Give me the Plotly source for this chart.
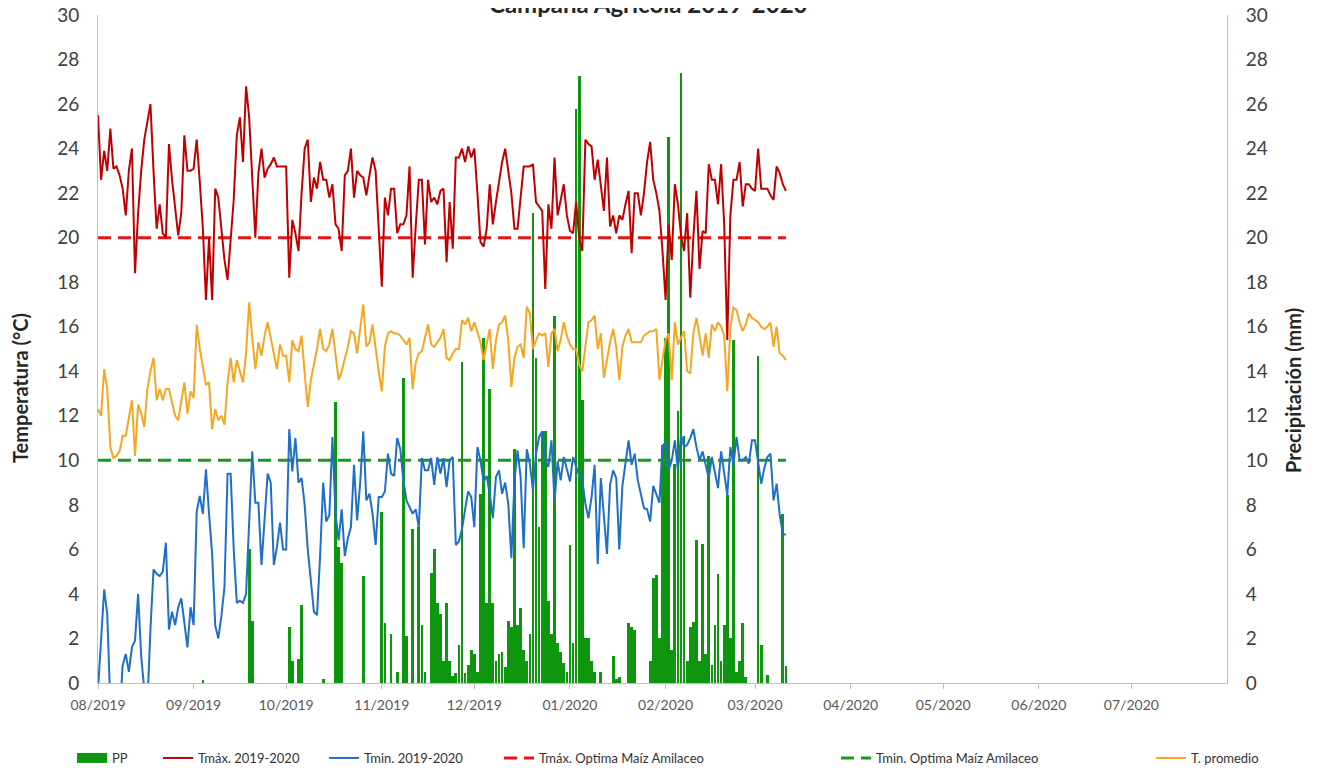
import pandas as pd
import plotly.graph_objects as go

# ---------------- data ----------------
start_date = "2019-08-01"
n_days = 224
dates = pd.date_range(start_date, periods=n_days, freq="D")

tmax = [
    25.5, 22.6, 23.9, 23.0, 24.9, 23.1, 23.2, 22.8, 22.2, 21.0,
    23.0, 24.0, 18.4, 21.1, 23.0, 24.4, 25.2, 26.0, 23.0, 20.4,
    21.5, 20.2, 20.0, 24.2, 22.6, 21.2, 20.1, 21.1, 24.6, 23.0,
    23.0, 23.1, 24.4, 22.5, 20.4, 17.2, 20.0, 17.2, 22.2, 21.8,
    20.5, 19.0, 18.1, 19.8, 21.7, 24.6, 25.4, 23.4, 26.8, 25.4,
    22.8, 20.0, 22.9, 24.0, 22.7, 23.1, 23.3, 23.6, 23.2, 23.2,
    23.2, 23.2, 18.2, 20.8, 20.2, 19.4, 22.0, 24.0, 24.4, 21.6,
    22.7, 22.2, 23.4, 22.6, 22.6, 21.8, 22.4, 20.6, 20.4, 19.4,
    22.8, 23.0, 24.0, 21.8, 23.0, 22.8, 22.7, 21.9, 22.8, 23.6,
    23.0, 20.5, 17.8, 21.8, 21.0, 22.2, 22.2, 20.2, 20.6, 20.6,
    21.0, 23.2, 18.2, 20.5, 22.6, 22.6, 19.7, 22.6, 21.6, 21.8,
    21.5, 22.1, 22.2, 18.9, 21.6, 19.5, 23.6, 23.6, 24.0, 23.4,
    24.1, 23.6, 24.0, 22.0, 19.8, 19.6, 20.4, 22.4, 20.6, 21.6,
    22.6, 23.4, 24.0, 23.0, 22.0, 20.4, 20.4, 21.8, 23.2, 23.2,
    23.2, 23.3, 21.6, 21.4, 21.2, 17.7, 21.5, 20.4, 23.6, 21.0,
    21.7, 22.4, 21.0, 20.3, 20.2, 21.6, 20.0, 19.4, 24.4, 24.2,
    24.1, 22.6, 23.5, 22.2, 21.2, 23.6, 20.5, 21.0, 20.2, 21.0,
    20.8, 21.5, 22.1, 19.3, 22.0, 22.0, 21.0, 22.0, 23.4, 24.3,
    22.6, 22.0, 21.2, 19.4, 17.2, 20.6, 19.0, 22.4, 21.5, 20.1,
    19.4, 21.1, 17.3, 20.0, 22.1, 18.6, 20.3, 20.2, 23.3, 22.6,
    22.6, 21.5, 23.3, 20.6, 15.4, 21.0, 22.6, 22.6, 23.4, 21.4,
    22.4, 22.4, 22.2, 22.1, 24.0, 22.2, 22.2, 22.2, 21.9, 21.7,
    23.2, 22.9, 22.4, 22.1,
]

tmin = [
    -0.3, 2.0, 4.2, 3.1, -1.0, -2.0, -2.5, -1.5, 0.8, 1.3,
    0.5, 1.6, 1.9, 4.0, 1.2, -0.3, -1.0, 2.4, 5.1, 4.9,
    4.8, 5.0, 6.3, 2.4, 3.2, 2.6, 3.4, 3.8, 2.8, 1.6,
    3.4, 2.6, 7.7, 8.4, 7.6, 9.6, 7.6, 5.8, 2.6, 2.0,
    3.0, 4.3, 9.4, 9.4, 6.0, 3.6, 3.7, 3.6, 4.0, 7.0,
    10.4, 8.1, 8.1, 5.3, 7.5, 9.4, 9.0, 5.3, 6.1, 7.2,
    6.0, 6.0, 11.4, 9.5, 11.0, 9.0, 9.2, 8.0, 6.0, 4.5,
    3.2, 3.05, 5.7, 9.0, 7.25, 7.55, 11.05, 7.6, 6.4, 7.8,
    5.7, 6.5, 7.0, 9.8, 7.3, 9.0, 11.3, 8.2, 8.5, 7.6,
    6.2, 8.35, 8.35, 8.6, 10.3, 9.4, 9.3, 11.0, 10.5, 9.1,
    8.2, 7.9, 7.6, 7.8, 7.0, 10.1, 9.55, 9.55, 10.1, 8.9,
    10.15, 9.4, 10.1, 8.8, 10.0, 10.15, 6.2, 6.35, 6.9, 7.8,
    8.6, 8.35, 7.0, 10.6, 10.0, 9.05, 9.3, 8.5, 7.4, 9.25,
    9.55, 8.5, 9.0, 8.05, 5.6, 9.05, 10.45, 9.25, 6.05, 10.5,
    9.85, 8.65, 10.3, 11.05, 11.3, 10.0, 9.7, 10.9, 8.15, 9.95,
    9.1, 10.15, 9.6, 9.05, 10.15, 9.7, 9.3, 9.1, 8.05, 7.4,
    8.35, 9.8, 5.35, 9.2, 7.4, 5.8, 8.9, 9.55, 9.2, 6.0,
    8.85, 9.85, 10.9, 9.8, 10.3, 9.1, 8.5, 7.85, 7.8, 7.25,
    8.85, 8.5, 8.1, 10.65, 10.8, 9.55, 10.0, 10.9, 9.55, 11.15,
    10.6, 10.7, 11.0, 11.4, 10.6, 10.0, 10.4, 9.8, 9.2, 10.15,
    9.5, 8.75, 10.4, 9.3, 8.45, 10.6, 9.8, 11.05, 10.0, 10.0,
    10.15, 9.85, 10.9, 10.9, 10.0, 8.95, 9.65, 10.15, 10.3, 8.2,
    8.95, 7.55, 6.7, 6.65,
]

tprom = [
    12.3, 12.0, 14.1, 13.2, 10.6, 10.1, 10.2, 10.4, 11.1, 11.1,
    11.9, 12.7, 10.2, 12.5, 12.1, 11.5, 13.2, 14.0, 14.6, 12.7,
    13.2, 12.7, 13.2, 13.2, 12.6, 12.0, 11.8, 12.6, 13.5, 12.1,
    13.1, 12.8, 16.1, 15.0, 14.2, 13.4, 13.5, 11.4, 12.3, 11.8,
    12.0, 11.6, 13.5, 14.6, 13.5, 14.5, 14.0, 13.5, 14.8, 17.1,
    15.5, 14.1, 15.3, 14.7, 15.6, 16.2, 15.5, 14.8, 14.1, 15.2,
    14.7, 14.7, 13.5, 15.4, 15.0, 14.9, 15.6, 13.9, 12.4, 13.6,
    14.3, 15.0, 15.9, 15.0, 14.9, 15.2, 15.9, 14.7, 13.6, 14.0,
    14.5, 15.1, 15.8, 15.7, 14.8, 15.8, 17.0, 15.1, 15.3, 16.1,
    15.0, 14.0, 13.1, 15.1, 15.7, 15.8, 15.7, 15.7, 15.6, 15.4,
    15.2, 15.5, 13.2, 14.4, 14.8, 14.9, 15.5, 16.1, 15.2, 15.1,
    15.3, 15.5, 15.9, 14.6, 14.5, 14.8, 15.0, 15.0, 16.3, 16.1,
    16.4, 15.8, 16.2, 15.8, 15.3, 14.5, 15.2, 15.9, 14.1, 15.4,
    16.1, 16.2, 16.5, 15.4, 13.3, 14.6, 15.1, 15.2, 14.6, 16.9,
    16.6, 15.0, 15.4, 15.7, 15.6, 15.7, 14.2, 15.7, 15.9, 14.9,
    15.4, 16.2, 15.6, 15.2, 15.0, 15.0, 14.3, 14.0, 15.1, 16.2,
    16.3, 16.5, 15.0, 15.7, 13.7, 14.5, 15.3, 15.9, 15.1, 13.6,
    15.1, 15.6, 15.9, 15.3, 15.3, 15.3, 15.3, 15.6, 15.7, 15.8,
    15.8, 15.9, 13.6, 14.6, 15.4, 15.7, 13.6, 16.2, 15.2, 15.5,
    15.8, 14.0, 13.9, 15.7, 16.4, 15.6, 14.7, 15.7, 14.6, 16.1,
    15.8, 16.2, 16.0, 15.6, 13.1, 15.9, 16.85, 16.75, 16.2, 15.8,
    16.1, 16.6, 16.4, 16.3, 16.2, 16.0, 15.9, 16.0, 16.2, 15.1,
    16.0, 14.8, 14.7, 14.5,
]

pp = [
    0, 0, 0, 0, 0, 0, 0, 0, 0, 0,
    0, 0, 0, 0, 0, 0, 0, 0, 0, 0,
    0, 0, 0, 0, 0, 0, 0, 0, 0, 0,
    0, 0, 0, 0, 0.15, 0, 0, 0, 0, 0,
    0, 0, 0, 0, 0, 0, 0, 0, 0, 6.0,
    2.8, 0, 0, 0, 0, 0, 0, 0, 0, 0,
    0, 0, 2.5, 1.0, 0, 1.1, 3.5, 0, 0, 0,
    0, 0, 0, 0.2, 0, 0, 0, 12.6, 6.1, 5.4,
    0, 0, 0, 0, 0, 0, 4.8, 0, 0, 0,
    0, 0, 7.7, 2.7, 0, 2.2, 0, 0.5, 0, 13.7,
    2.1, 0, 6.9, 0, 7.0, 2.6, 0.5, 0, 4.95, 6.0,
    3.6, 3.1, 1.0, 3.6, 1.0, 0.3, 0.45, 1.7, 14.4, 0.45,
    0.8, 1.5, 1.3, 0.5, 8.5, 15.5, 3.6, 13.2, 3.6, 1.0,
    1.3, 1.4, 0.7, 2.8, 2.5, 10.5, 2.6, 3.35, 1.5, 1.0,
    2.2, 21.1, 14.6, 7.0, 11.3, 11.3, 3.7, 2.2, 16.5, 1.8,
    1.4, 0.9, 0.5, 6.2, 1.8, 25.8, 27.25, 12.7, 2.0, 2.0,
    1.0, 0.5, 0, 0.5, 0, 0, 0, 1.2, 0.2, 0.25,
    0, 0, 2.7, 2.5, 2.4, 0, 0, 0, 0, 1.0,
    4.7, 4.85, 2.0, 10.7, 15.5, 24.5, 1.5, 9.85, 12.2, 27.4,
    11.1, 1.0, 2.5, 2.75, 6.4, 1.0, 6.25, 1.3, 10.2, 0.8,
    2.6, 4.9, 1.0, 2.6, 8.45, 2.0, 15.4, 0.5, 1.0, 2.7,
    0.25, 0, 0, 0, 14.7, 1.7, 0, 0.35, 0, 0,
    0, 0, 7.6, 0.75,
]

tmax_optima = 20
tmin_optima = 10

tick_dates = ["2019-08-01", "2019-09-01", "2019-10-01", "2019-11-01", "2019-12-01",
              "2020-01-01", "2020-02-01", "2020-03-01", "2020-04-01", "2020-05-01",
              "2020-06-01", "2020-07-01"]
tick_labels = ["08/2019", "09/2019", "10/2019", "11/2019", "12/2019", "01/2020",
               "02/2020", "03/2020", "04/2020", "05/2020", "06/2020", "07/2020"]
x_range = ["2019-08-01", "2020-08-01"]

title_text = "Campaña Agrícola 2019-2020"
names = ["PP", "Tmáx. 2019-2020", "Tmin. 2019-2020", "Tmáx. Optima Maíz Amilaceo",
         "Tmin. Optima Maíz Amilaceo", "T. promedio"]

# ---------------- styles ----------------
FONT = "Lato"
GREEN = "#0E960E"
C_TMAX = "#C00000"
C_TMIN = "#1F6FC8"
C_TOPT = "#E81414"
C_GOPT = "#1B9A1B"
C_PROM = "#F5A623"
AXIS_C = "#BFBFBF"

OFF = 8  # default page body margin of the html page
W, H = 1317 - OFF, 774 - OFF
PLOT_L, PLOT_R, PLOT_T, PLOT_B = 98, 1227, 15, 683  # page pixel frame of plot area
L, T = PLOT_L - OFF, PLOT_T - OFF
PW, PH = PLOT_R - PLOT_L, PLOT_B - PLOT_T
R, B = W - L - PW, H - T - PH


def px_x(px):
    return (px - PLOT_L) / PW


def px_y(py):
    return (PLOT_B - py) / PH


fig = go.Figure()

# precipitation bars (primary y, drawn underneath the lines)
fig.add_trace(go.Bar(
    x=dates, y=pp, name=names[0], marker=dict(color=GREEN, line=dict(width=0)),
    width=0.88 * 86400000, yaxis="y", showlegend=False,
))
# legend swatch for PP
fig.add_trace(go.Scatter(
    x=[None], y=[None], mode="lines", name=names[0],
    line=dict(color=GREEN, width=10), yaxis="y", legend="legend",
))

fig.add_trace(go.Scatter(
    x=dates, y=[tmax_optima] * n_days, mode="lines", name=names[3],
    line=dict(color=C_TOPT, width=3, dash="13px,7px"), yaxis="y2", legend="legend4",
))
fig.add_trace(go.Scatter(
    x=dates, y=[tmin_optima] * n_days, mode="lines", name=names[4],
    line=dict(color=C_GOPT, width=3, dash="13px,7px"), yaxis="y2", legend="legend5",
))
fig.add_trace(go.Scatter(
    x=dates, y=tprom, mode="lines", name=names[5],
    line=dict(color=C_PROM, width=2), yaxis="y2", legend="legend6",
))
fig.add_trace(go.Scatter(
    x=dates, y=tmin, mode="lines", name=names[2],
    line=dict(color=C_TMIN, width=2), yaxis="y2", legend="legend3",
))
fig.add_trace(go.Scatter(
    x=dates, y=tmax, mode="lines", name=names[1],
    line=dict(color=C_TMAX, width=2), yaxis="y2", legend="legend2",
))

yaxis_common = dict(
    range=[0, 30], dtick=2, tick0=0, showgrid=False, zeroline=False,
    showline=True, linecolor=AXIS_C, linewidth=1, ticks="",
    tickfont=dict(family=FONT, size=19, color="#404040"),
    ticklabelstandoff=14, ticklabeloverflow="allow",
)

legend_y = px_y(758)
legend_text_starts = [111, 197, 363, 538, 875, 1190]
legend_keys = ["legend", "legend2", "legend3", "legend4", "legend5", "legend6"]
legend_layout = {}
for key, tx in zip(legend_keys, legend_text_starts):
    legend_layout[key] = dict(
        x=px_x(tx - 39), y=legend_y, xanchor="left", yanchor="middle",
        orientation="h", bgcolor="rgba(0,0,0,0)",
        font=dict(family=FONT, size=13, color="#333333"),
    )

fig.update_layout(
    width=W, height=H,
    margin=dict(l=L, r=R, t=T, b=B, autoexpand=False),
    paper_bgcolor="white", plot_bgcolor="white",
    font=dict(family=FONT, color="#404040"),
    bargap=0,
    xaxis=dict(
        type="date", range=x_range, tickvals=tick_dates, ticktext=tick_labels,
        showgrid=False, zeroline=False, showline=True, linecolor=AXIS_C, linewidth=1,
        ticks="outside", ticklen=5, tickcolor=AXIS_C,
        tickfont=dict(family=FONT, size=14, color="#595959"),
        ticklabelstandoff=4, ticklabeloverflow="allow",
    ),
    yaxis=dict(side="right", **yaxis_common),
    yaxis2=dict(side="left", overlaying="y", **yaxis_common),
    annotations=[
        dict(text="<b>" + title_text + "</b>", x=px_x(648), y=px_y(4),
             xref="paper", yref="paper", showarrow=False, xanchor="center",
             yanchor="middle", font=dict(family=FONT, size=24, color="#262626")),
        dict(text="<b>Temperatura (°C)</b>", x=px_x(20), y=px_y(388),
             xref="paper", yref="paper", showarrow=False, textangle=-90,
             xanchor="center", yanchor="middle",
             font=dict(family=FONT, size=20, color="#262626")),
        dict(text="<b>Precipitación (mm)</b>", x=px_x(1293), y=px_y(391),
             xref="paper", yref="paper", showarrow=False, textangle=-90,
             xanchor="center", yanchor="middle",
             font=dict(family=FONT, size=20, color="#262626")),
    ],
    **legend_layout,
)

fig.write_html("out.html")
